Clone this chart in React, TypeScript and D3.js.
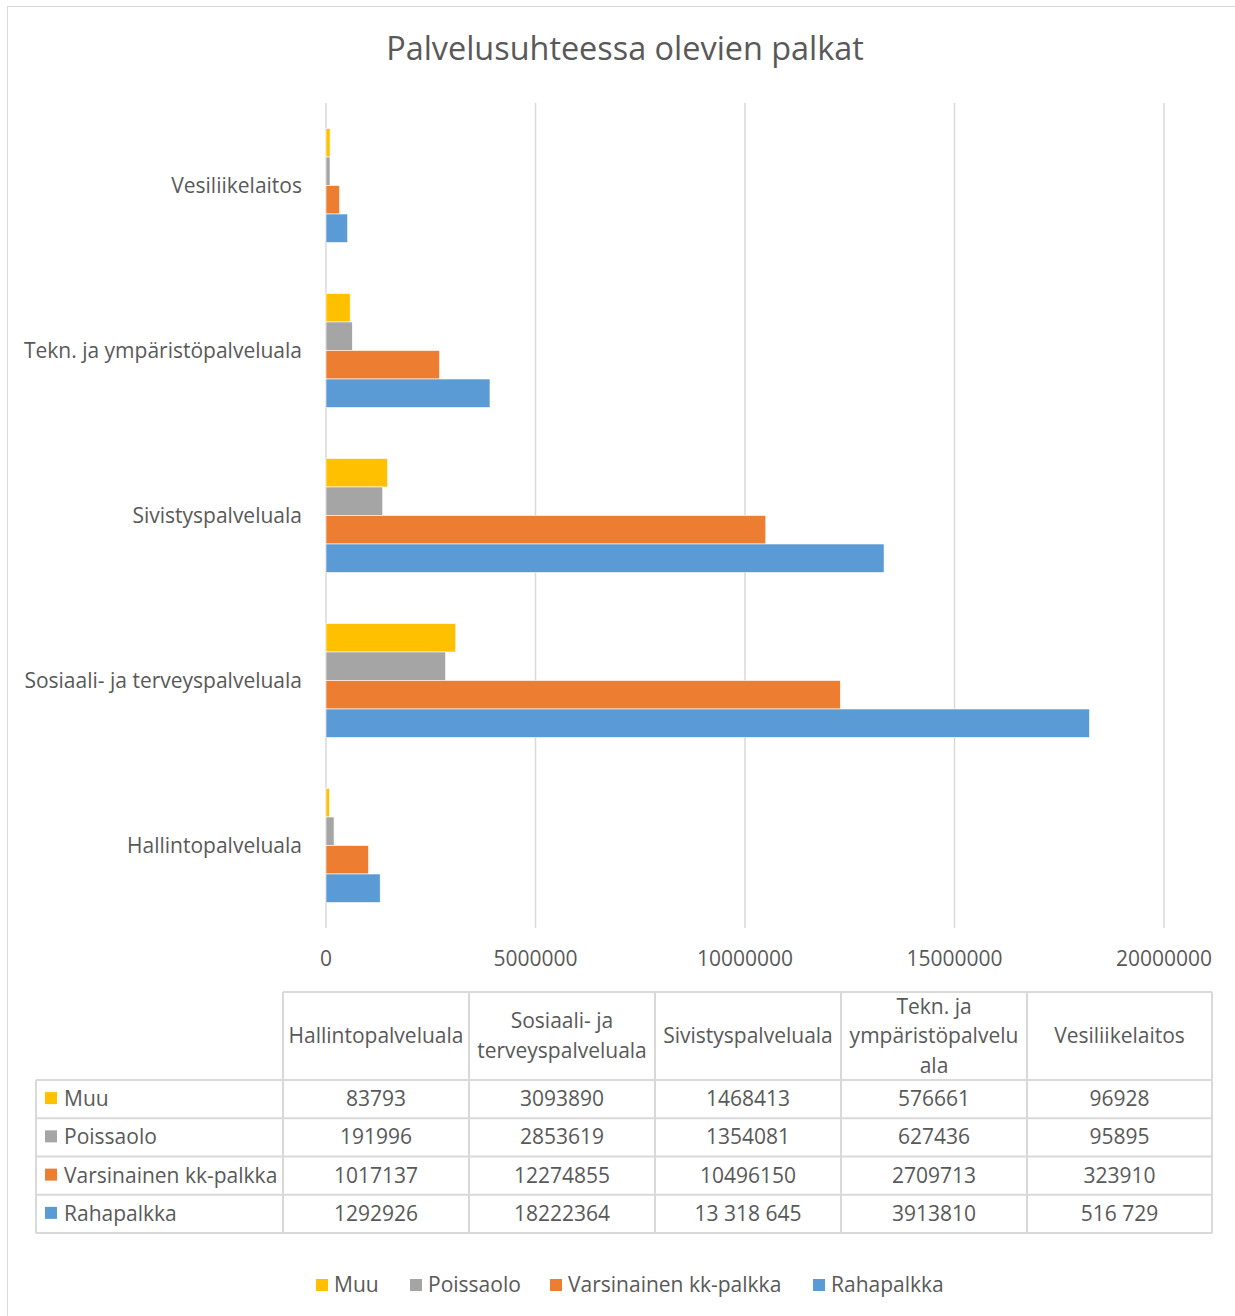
import React from "react";
import * as d3 from "d3";

const title = "Palvelusuhteessa olevien palkat";
const categories = [
  "Hallintopalveluala",
  "Sosiaali- ja terveyspalveluala",
  "Sivistyspalveluala",
  "Tekn. ja ympäristöpalveluala",
  "Vesiliikelaitos",
];
const headerLines = [
  ["Hallintopalveluala"],
  ["Sosiaali- ja", "terveyspalveluala"],
  ["Sivistyspalveluala"],
  ["Tekn. ja", "ympäristöpalvelu", "ala"],
  ["Vesiliikelaitos"],
];
const seriesNames = ["Muu", "Poissaolo", "Varsinainen kk-palkka", "Rahapalkka"];
const seriesColors = ["#FFC000", "#A5A5A5", "#ED7D31", "#5B9BD5"];
const muu = [83793, 3093890, 1468413, 576661, 96928];
const poissaolo = [191996, 2853619, 1354081, 627436, 95895];
const varsinainen = [1017137, 12274855, 10496150, 2709713, 323910];
const rahapalkka = [1292926, 18222364, 13318645, 3913810, 516729];
const rahapalkkaLabels = ["1292926", "18222364", "13 318 645", "3913810", "516 729"];
const xTicks = [0, 5000000, 10000000, 15000000, 20000000];

const seriesValues = [muu, poissaolo, varsinainen, rahapalkka];
const seriesLabels = [
  muu.map(String),
  poissaolo.map(String),
  varsinainen.map(String),
  rahapalkkaLabels,
];

const FONT = "'Open Sans', 'Noto Sans', sans-serif";
const TEXT = "#595959";
const GRID = "#D9D9D9";
const FS = 21;

export default function App() {
  const W = 1235;
  const H = 1316;
  const x = d3.scaleLinear().domain([0, 20000000]).range([326, 1164]);
  const plotOrder = [...categories].reverse();
  const y = d3.scaleBand<string>().domain(plotOrder).range([103, 928]).paddingInner(0).paddingOuter(0);
  const inner = d3
    .scaleBand<string>()
    .domain(seriesNames)
    .range([0, y.bandwidth()])
    .paddingInner(0)
    .paddingOuter(0.895);

  const colX = [283, 469, 655, 841, 1027, 1212];
  const tableLeft = 36;
  const tableTop = 992;
  const headerBottom = 1080;
  const rowH = (1233 - 1080) / 4;
  const rowY = (i: number) => headerBottom + i * rowH;

  const legendX = [316, 410, 550, 813];

  return (
    <svg
      width={W}
      height={H}
      style={{ position: "absolute", left: 0, top: 0, background: "#fff", display: "block" }}
      fontFamily={FONT}
    >
      <rect x={0} y={0} width={W} height={H} fill="#fff" />
      <rect x={7.5} y={6.5} width={W + 20} height={H + 20} fill="none" stroke={GRID} strokeWidth={1} />
      <text x={625} y={60} textAnchor="middle" fontSize={32.4} fill={TEXT}>
        {title}
      </text>

      {xTicks.map((t) => (
        <line key={t} x1={x(t)} x2={x(t)} y1={103} y2={928} stroke={GRID} strokeWidth={1.5} />
      ))}

      {categories.map((c, ci) => (
        <g key={c}>
          {seriesNames.map((s, si) => (
            <rect
              key={s}
              x={x(0)}
              y={(y(c) as number) + (inner(s) as number)}
              width={x(seriesValues[si][ci]) - x(0)}
              height={inner.bandwidth()}
              fill={seriesColors[si]}
              stroke="#fff"
              strokeWidth={0.6}
            />
          ))}
          <text
            x={302}
            y={(y(c) as number) + y.bandwidth() / 2 - 1}
            textAnchor="end"
            dominantBaseline="central"
            fontSize={FS}
            fill={TEXT}
          >
            {c}
          </text>
        </g>
      ))}

      {xTicks.map((t) => (
        <text key={"l" + t} x={x(t)} y={966} textAnchor="middle" fontSize={FS} fill={TEXT}>
          {String(t)}
        </text>
      ))}

      {/* data table */}
      <g stroke={GRID} strokeWidth={2} fill="none">
        <line x1={colX[0]} x2={colX[5]} y1={tableTop} y2={tableTop} />
        {colX.map((cx, i) => (
          <line key={"v" + i} x1={cx} x2={cx} y1={tableTop} y2={rowY(4)} />
        ))}
        <line x1={tableLeft} x2={tableLeft} y1={headerBottom} y2={rowY(4)} />
        {[0, 1, 2, 3, 4].map((i) => (
          <line key={"h" + i} x1={tableLeft} x2={colX[5]} y1={rowY(i)} y2={rowY(i)} />
        ))}
      </g>
      {headerLines.map((lines, ci) => {
        const cx = (colX[ci] + colX[ci + 1]) / 2;
        const cy = (tableTop + headerBottom) / 2 - 1;
        const lh = 29.5;
        return (
          <text key={"hd" + ci} textAnchor="middle" fontSize={FS} fill={TEXT}>
            {lines.map((ln, li) => (
              <tspan
                key={li}
                x={cx}
                y={cy + (li - (lines.length - 1) / 2) * lh}
                dominantBaseline="central"
              >
                {ln}
              </tspan>
            ))}
          </text>
        );
      })}
      {seriesNames.map((s, si) => {
        const cy = rowY(si) + rowH / 2 - 1;
        return (
          <g key={"row" + s}>
            <rect x={45} y={cy - 6} width={12} height={12} fill={seriesColors[si]} />
            <text x={64} y={cy} dominantBaseline="central" fontSize={FS} fill={TEXT}>
              {s}
            </text>
            {seriesLabels[si].map((v, ci) => (
              <text
                key={ci}
                x={(colX[ci] + colX[ci + 1]) / 2}
                y={cy}
                textAnchor="middle"
                dominantBaseline="central"
                fontSize={FS}
                fill={TEXT}
              >
                {v}
              </text>
            ))}
          </g>
        );
      })}

      {/* legend */}
      {seriesNames.map((s, si) => (
        <g key={"lg" + s}>
          <rect x={legendX[si]} y={1279} width={12} height={12} fill={seriesColors[si]} />
          <text x={legendX[si] + 18} y={1284} dominantBaseline="central" fontSize={FS} fill={TEXT}>
            {s}
          </text>
        </g>
      ))}
    </svg>
  );
}
